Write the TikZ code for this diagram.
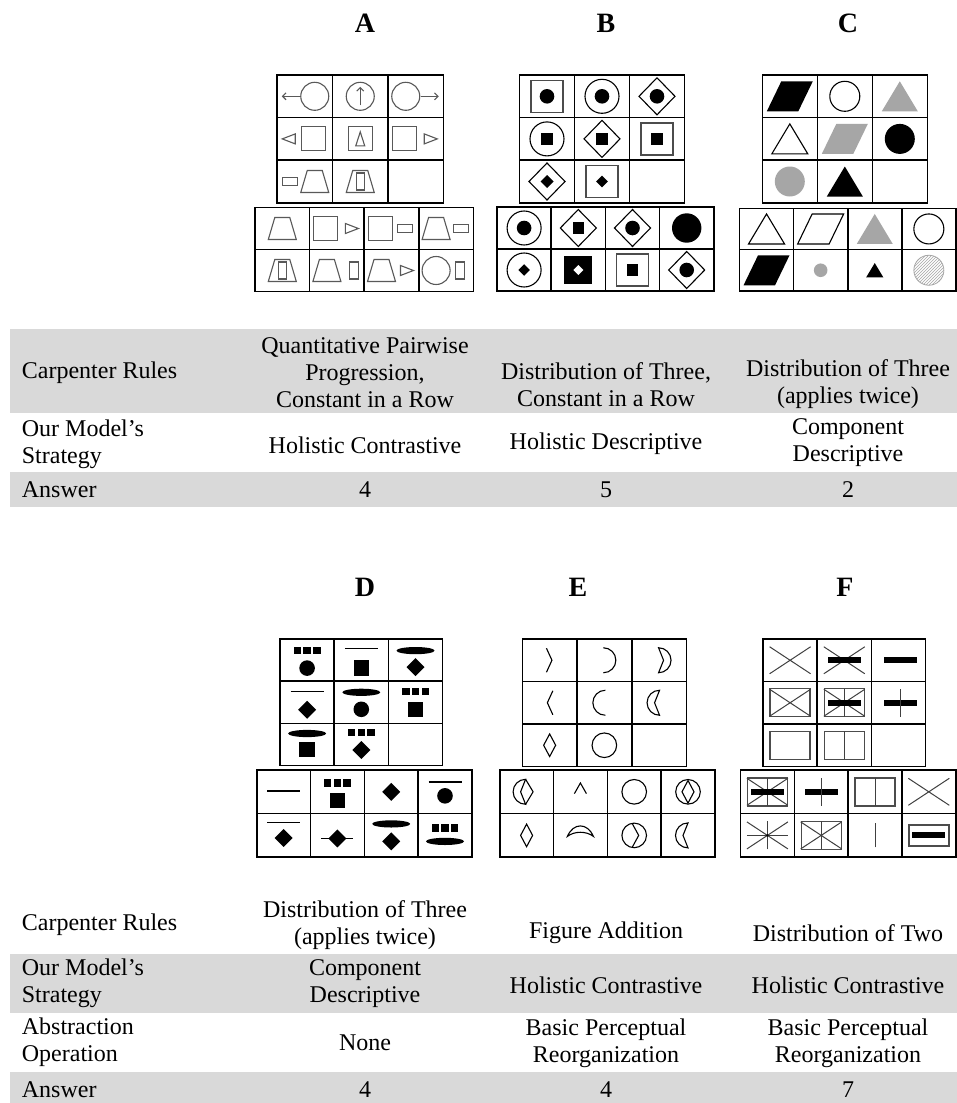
\documentclass[tikz,border=0pt]{standalone}
\usepackage{fontspec}
\setmainfont{Liberation Serif}
\usetikzlibrary{arrows.meta,patterns}

\tikzset{
  cellBox/.style={draw=black, line width=1.6pt, inner sep=0pt, outer sep=0pt},
  panelTitle/.style={font=\fontsize{28}{30}\selectfont\bfseries, inner sep=0pt},
  rowBand/.style={fill=black!15, draw=none},
  tabText/.style={font=\fontsize{24}{27}\selectfont, align=center, inner sep=0pt},
  tabLabel/.style={tabText, align=left, anchor=west},
  aLine/.style={draw=black!65, line width=1.1pt},
  aTip/.style={-{Straight Barb[length=3.5pt,width=7pt]}},
  bLine/.style={draw=black, line width=1.1pt},
  bFrame/.style={draw=black!70, line width=1.5pt},
  eLine/.style={draw=black, line width=1.1pt},
  fLine/.style={draw=black!75, line width=1pt},
  fFrame/.style={draw=black!70, line width=1.4pt},
  % puzzle A parts
  aCirc/.pic={\draw[aLine] (0,0) circle (14);},
  aSquare/.pic={\draw[aLine] (-12,-12) rectangle (12,12);},
  aTrap/.pic={\draw[aLine] (-14,-11) -- (14,-11) -- (7.5,11) -- (-7.5,11) -- cycle;},
  aTriR/.pic={\draw[aLine] (-6.5,-5) -- (6.5,0) -- (-6.5,5) -- cycle;},
  aTriL/.pic={\draw[aLine] (6.5,-5) -- (-6.5,0) -- (6.5,5) -- cycle;},
  aTriU/.pic={\draw[aLine] (-4.5,-7) -- (0,7) -- (4.5,-7) -- cycle;},
  aBarH/.pic={\draw[aLine] (-7.5,-4) rectangle (7.5,4);},
  aBarV/.pic={\draw[aLine] (-4.2,-8.5) rectangle (4.2,8.5);},
  % puzzle B parts
  bSquare/.pic={\draw[bFrame] (-16,-16) rectangle (16,16);},
  bRing/.pic={\draw[bLine] (0,0) circle (17);},
  bDiamond/.pic={\draw[bLine] (-18,0) -- (0,18.5) -- (18,0) -- (0,-18.5) -- cycle;},
  bDot/.pic={\fill (0,0) circle (7.3);},
  bBlock/.pic={\fill (-5.8,-5.8) rectangle (5.8,5.8);},
  bKite/.pic={\fill (-6.5,0) -- (0,6.5) -- (6.5,0) -- (0,-6.5) -- cycle;},
  % puzzle C parts
  cPara/.pic={\path[pic actions] (-23,-15) -- (8.5,-15) -- (23,15) -- (-8.5,15) -- cycle;},
  cTri/.pic={\path[pic actions] (-18,-15) -- (18,-15) -- (0,15) -- cycle;},
  cDisc/.pic={\path[pic actions] (0,0) circle (15);},
  % puzzle D parts
  dDots/.pic={\foreach \i in {-9.7,0,9.7} \fill (\i-3.7,-3.7) rectangle ++(7.4,7.4);},
  dLine/.pic={\draw[line width=1.5pt] (-16.5,0) -- (16.5,0);},
  dOval/.pic={\fill (0,0) ellipse [x radius=19, y radius=3.6];},
  dBall/.pic={\fill (0,0) circle (7.8);},
  dBlock/.pic={\fill (-7.8,-7.8) rectangle (7.8,7.8);},
  dGem/.pic={\fill (-9,0) -- (0,9) -- (9,0) -- (0,-9) -- cycle;},
  % puzzle E parts
  eChev/.pic={\draw[eLine] (-2.7,12) -- (2.8,0) -- (-2.7,-12);},
  eArc/.pic={\draw[eLine] (0,12.5) arc[start angle=90, end angle=-90, radius=12.5];},
  eMoon/.pic={\draw[eLine] (0,12.5) arc[start angle=90, end angle=-90, radius=12.5] -- (5,0) -- cycle;},
  eDia/.pic={\draw[eLine] (-6,0) -- (0,11.3) -- (6,0) -- (0,-11.3) -- cycle;},
  eRing/.pic={\draw[eLine] (0,0) circle (12.3);},
  % puzzle F parts
  fX/.pic={\draw[fLine] (-20.5,-13.5) -- (20.5,13.5) (-20.5,13.5) -- (20.5,-13.5);},
  fBar/.pic={\fill (-16.5,-3) rectangle (16.5,3);},
  fBox/.pic={\draw[fFrame] (-20,-14) rectangle (20,14);},
  fV/.pic={\draw[fLine] (0,-14) -- (0,14);}
}

% grid of cells: name, rows, cols, left, top, cell width, cell height
\newcommand{\rpmGrid}[7]{%
  \foreach \row in {1,...,#2}{\foreach \col in {1,...,#3}{
    \node[cellBox, minimum width=#6pt, minimum height=#7pt] (#1\row\col)
      at ({#4+(\col-0.5)*#6},{-(#5+(\row-0.5)*#7)}) {};
  }}}
\newcommand{\incell}[2]{\begin{scope}[shift={(#1.center)}]#2\end{scope}}

\begin{document}
\begin{tikzpicture}[x=1pt, y=1pt]
  \useasboundingbox (0,0) rectangle (957,-1103);
  \fill[white] (0,0) rectangle (957,-1103);

  % table bands
  \fill[rowBand] (10,-329.3) rectangle (957,-412.7);
  \fill[rowBand] (10,-471.7) rectangle (957,-507.3);
  \fill[rowBand] (10,-954) rectangle (957,-1012.7);
  \fill[rowBand] (10,-1071.7) rectangle (957,-1103);

  % panel frames
  \rpmGrid{Am}{3}{3}{277}{75}{55.5}{42.6}
  \rpmGrid{Aa}{2}{4}{255}{207.5}{54.6}{42}
  \rpmGrid{Bm}{3}{3}{519.5}{75}{55}{42.6}
  \rpmGrid{Ba}{2}{4}{497}{207}{54.2}{42}
  \rpmGrid{Cm}{3}{3}{762.3}{75}{55}{42.6}
  \rpmGrid{Ca}{2}{4}{739.5}{208.3}{54.1}{41.3}
  \rpmGrid{Dm}{3}{3}{280}{639}{54.2}{42.2}
  \rpmGrid{Da}{2}{4}{256.7}{770}{53.8}{43.6}
  \rpmGrid{Em}{3}{3}{522.3}{639}{54.7}{42.5}
  \rpmGrid{Ea}{2}{4}{499.7}{770}{53.8}{43.6}
  \rpmGrid{Fm}{3}{3}{763}{639}{54.2}{42.5}
  \rpmGrid{Fa}{2}{4}{740.5}{770}{53.8}{43.6}

  % A
  \incell{Am11}{\pic at (10,0) {aCirc}; \draw[aLine, aTip] (-4.5,0) -- (-23,0);}
  \incell{Am12}{\pic {aCirc}; \draw[aLine, aTip] (0,-9) -- (0,9.5);}
  \incell{Am13}{\pic at (-10,0) {aCirc}; \draw[aLine, aTip] (5,0) -- (23,0);}
  \incell{Am21}{\pic at (-16,0) {aTriL}; \pic at (9,0) {aSquare};}
  \incell{Am22}{\pic {aSquare}; \pic {aTriU};}
  \incell{Am23}{\pic at (-11,0) {aSquare}; \pic at (15,0) {aTriR};}
  \incell{Am31}{\pic at (-15,0) {aBarH}; \pic at (10,0) {aTrap};}
  \incell{Am32}{\pic {aTrap}; \pic {aBarV};}
  \incell{Aa11}{\pic {aTrap};}
  \incell{Aa12}{\pic at (-11,0) {aSquare}; \pic at (15,0) {aTriR};}
  \incell{Aa13}{\pic at (-11,0) {aSquare}; \pic at (13.5,0) {aBarH};}
  \incell{Aa14}{\pic at (-10,0) {aTrap}; \pic at (14.5,0) {aBarH};}
  \incell{Aa21}{\pic {aTrap}; \pic {aBarV};}
  \incell{Aa22}{\pic at (-10,0) {aTrap}; \pic at (17,0) {aBarV};}
  \incell{Aa23}{\pic at (-10,0) {aTrap}; \pic at (15.5,0) {aTriR};}
  \incell{Aa24}{\pic at (-10,0) {aCirc}; \pic at (14,0) {aBarV};}

  % B
  \incell{Bm11}{\pic {bSquare}; \pic {bDot};}
  \incell{Bm12}{\pic {bRing}; \pic {bDot};}
  \incell{Bm13}{\pic {bDiamond}; \pic {bDot};}
  \incell{Bm21}{\pic {bRing}; \pic {bBlock};}
  \incell{Bm22}{\pic {bDiamond}; \pic {bBlock};}
  \incell{Bm23}{\pic {bSquare}; \pic {bBlock};}
  \incell{Bm31}{\pic {bDiamond}; \pic {bKite};}
  \incell{Bm32}{\pic {bSquare}; \pic[scale=0.9] {bKite};}
  \incell{Ba11}{\pic {bRing}; \pic {bDot};}
  \incell{Ba12}{\pic {bDiamond}; \pic {bBlock};}
  \incell{Ba13}{\pic {bDiamond}; \pic {bDot};}
  \incell{Ba14}{\fill (0,0) circle (14.7);}
  \incell{Ba21}{\pic {bRing}; \pic[scale=0.9] {bKite};}
  \incell{Ba22}{\fill (-14,-14) rectangle (14,14);
    \fill[white] (-5,0) -- (0,5) -- (5,0) -- (0,-5) -- cycle;}
  \incell{Ba23}{\pic {bSquare}; \pic {bBlock};}
  \incell{Ba24}{\pic {bDiamond}; \pic {bDot};}

  % C
  \incell{Cm11}{\pic[fill=black] {cPara};}
  \incell{Cm12}{\pic[draw=black, line width=1.1pt] {cDisc};}
  \incell{Cm13}{\pic[fill=black!35] {cTri};}
  \incell{Cm21}{\pic[draw=black, line width=1.1pt] {cTri};}
  \incell{Cm22}{\pic[fill=black!35] {cPara};}
  \incell{Cm23}{\pic[fill=black] {cDisc};}
  \incell{Cm31}{\pic[fill=black!35] {cDisc};}
  \incell{Cm32}{\pic[fill=black] {cTri};}
  \incell{Ca11}{\pic[draw=black, line width=1.1pt] {cTri};}
  \incell{Ca12}{\pic[draw=black, line width=1.1pt] {cPara};}
  \incell{Ca13}{\pic[fill=black!35] {cTri};}
  \incell{Ca14}{\pic[draw=black, line width=1.1pt] {cDisc};}
  \incell{Ca21}{\pic[fill=black] {cPara};}
  \incell{Ca22}{\fill[black!35] (0,0) circle (6.8);}
  \incell{Ca23}{\pic[fill=black, scale=0.48] {cTri};}
  \incell{Ca24}{\draw[draw=black!35, line width=0.8pt, pattern=north east lines,
    pattern color=black!35] (0,0) circle (15);}

  % D
  \incell{Dm11}{\pic at (0,9.7) {dDots}; \pic at (0,-8) {dBall};}
  \incell{Dm12}{\pic at (0,11.5) {dLine}; \pic at (0,-8) {dBlock};}
  \incell{Dm13}{\pic at (0,9.5) {dOval}; \pic at (0,-7) {dGem};}
  \incell{Dm21}{\pic at (0,10.8) {dLine}; \pic at (0,-7.5) {dGem};}
  \incell{Dm22}{\pic at (0,10) {dOval}; \pic at (0,-7) {dBall};}
  \incell{Dm23}{\pic at (0,10.8) {dDots}; \pic at (0,-7) {dBlock};}
  \incell{Dm31}{\pic at (0,11) {dOval}; \pic at (0,-5) {dBlock};}
  \incell{Dm32}{\pic at (0,12) {dDots}; \pic at (0,-5.5) {dGem};}
  \incell{Da11}{\pic at (0,1) {dLine};}
  \incell{Da12}{\pic at (0,9) {dDots}; \pic at (0,-8.5) {dBlock};}
  \incell{Da13}{\pic {dGem};}
  \incell{Da14}{\pic at (0,9.7) {dLine}; \pic at (0,-4) {dBall};}
  \incell{Da21}{\pic at (0,13) {dLine}; \pic at (0,-2.5) {dGem};}
  \incell{Da22}{\draw[line width=1.2pt] (-16,-3) -- (16,-3); \pic at (0,-3) {dGem};}
  \incell{Da23}{\pic at (0,11.5) {dOval}; \pic at (0,-6) {dGem};}
  \incell{Da24}{\pic at (0,7.5) {dDots}; \pic at (0,-6) {dOval};}

  % E
  \incell{Em11}{\pic at (-0.5,0) {eChev};}
  \incell{Em12}{\pic at (-1,0) {eArc};}
  \incell{Em13}{\pic at (-0.5,0) {eMoon};}
  \incell{Em21}{\pic[xscale=-1] at (0.5,0) {eChev};}
  \incell{Em22}{\pic[xscale=-1] at (1,0) {eArc};}
  \incell{Em23}{\pic[xscale=-1] at (0.5,0) {eMoon};}
  \incell{Em31}{\pic {eDia};}
  \incell{Em32}{\pic {eRing};}
  \incell{Ea11}{\pic[xscale=-1] at (-1,0) {eMoon}; \draw[eLine] (-1,12.5) -- (6.5,0) -- (-1,-12.5);}
  \incell{Ea12}{\draw[eLine] (-6,-1.8) -- (0,8.8) -- (6,-1.8);}
  \incell{Ea13}{\pic {eRing};}
  \incell{Ea14}{\pic {eRing}; \pic {eDia};}
  \incell{Ea21}{\pic {eDia};}
  \incell{Ea22}{\draw[eLine] (-13,-1) .. controls (-7,13) and (7,13) .. (13,-1)
    .. controls (6,4.5) and (-6,4.5) .. (-13,-1) -- cycle;}
  \incell{Ea23}{\pic {eRing}; \draw[eLine] (-2.1,12.1) -- (4.5,0) -- (-2.1,-12.1);}
  \incell{Ea24}{\pic[xscale=-1] {eMoon};}

  % F
  \incell{Fm11}{\pic {fX};}
  \incell{Fm12}{\pic {fX}; \pic {fBar};}
  \incell{Fm13}{\pic at (2,0) {fBar};}
  \incell{Fm21}{\pic {fBox}; \pic {fX};}
  \incell{Fm22}{\pic {fBox}; \pic {fX}; \pic {fV}; \pic {fBar};}
  \incell{Fm23}{\pic at (2,0) {fBar}; \pic at (2,0) {fV};}
  \incell{Fm31}{\pic {fBox};}
  \incell{Fm32}{\pic {fBox}; \pic {fV};}
  \incell{Fa11}{\pic {fBox}; \pic {fX}; \pic {fV}; \pic {fBar};}
  \incell{Fa12}{\pic {fBar}; \pic {fV};}
  \incell{Fa13}{\pic {fBox}; \pic {fV};}
  \incell{Fa14}{\pic {fX};}
  \incell{Fa21}{\pic {fX}; \pic {fV}; \draw[fLine] (-20.5,0) -- (20.5,0); \fill (0,0) circle (1.3);}
  \incell{Fa22}{\pic {fBox}; \pic {fX}; \pic {fV};}
  \incell{Fa23}{\draw[fLine] (0,-12) -- (0,12);}
  \incell{Fa24}{\draw[fFrame] (-20,-10.5) rectangle (20,10.5); \pic {fBar};}

  % panel titles
  \node[panelTitle] (titleA) at (365,-23) {A};
  \node[panelTitle] (titleB) at (606,-23) {B};
  \node[panelTitle] (titleC) at (848,-23) {C};
  \node[panelTitle] (titleD) at (365,-587) {D};
  \node[panelTitle] (titleE) at (578,-587) {E};
  \node[panelTitle] (titleF) at (845,-587) {F};

  % upper table
  \node[tabLabel] (ruleLabTop) at (21.7,-373) {Carpenter Rules};
  \node[tabText] (ruleA) at (365,-373) {Quantitative Pairwise\\Progression,\\Constant in a Row};
  \node[tabText] (ruleB) at (606,-384.5) {Distribution of Three,\\Constant in a Row};
  \node[tabText] (ruleC) at (848,-384.5) {Distribution of Three\\(applies twice)};
  \node[tabLabel] (stratLabTop) at (21.7,-444) {Our Model’s\\Strategy};
  \node[tabText] (stratA) at (365,-445) {Holistic Contrastive};
  \node[tabText] (stratB) at (606,-443.5) {Holistic Descriptive};
  \node[tabText] (stratC) at (848,-442.5) {Component\\Descriptive};
  \node[tabLabel] (ansLabTop) at (21.7,-489.5) {Answer};
  \node[tabText] (ansA) at (365,-489.5) {4};
  \node[tabText] (ansB) at (606,-489.5) {5};
  \node[tabText] (ansC) at (848,-489.5) {2};

  % lower table
  \node[tabLabel] (ruleLabLow) at (21.7,-925) {Carpenter Rules};
  \node[tabText] (ruleD) at (365,-925) {Distribution of Three\\(applies twice)};
  \node[tabText] (ruleE) at (606,-933) {Figure Addition};
  \node[tabText] (ruleF) at (848,-933) {Distribution of Two};
  \node[tabLabel] (stratLabLow) at (21.7,-983.5) {Our Model’s\\Strategy};
  \node[tabText] (stratD) at (365,-983.5) {Component\\Descriptive};
  \node[tabText] (stratE) at (606,-985) {Holistic Contrastive};
  \node[tabText] (stratF) at (848,-985) {Holistic Contrastive};
  \node[tabLabel] (abstLabLow) at (21.7,-1042.5) {Abstraction\\Operation};
  \node[tabText] (abstD) at (365,-1043) {None};
  \node[tabText] (abstE) at (606,-1043) {Basic Perceptual\\Reorganization};
  \node[tabText] (abstF) at (848,-1043) {Basic Perceptual\\Reorganization};
  \node[tabLabel] (ansLabLow) at (21.7,-1090) {Answer};
  \node[tabText] (ansD) at (365,-1090) {4};
  \node[tabText] (ansE) at (606,-1090) {4};
  \node[tabText] (ansF) at (848,-1090) {7};
\end{tikzpicture}
\end{document}
